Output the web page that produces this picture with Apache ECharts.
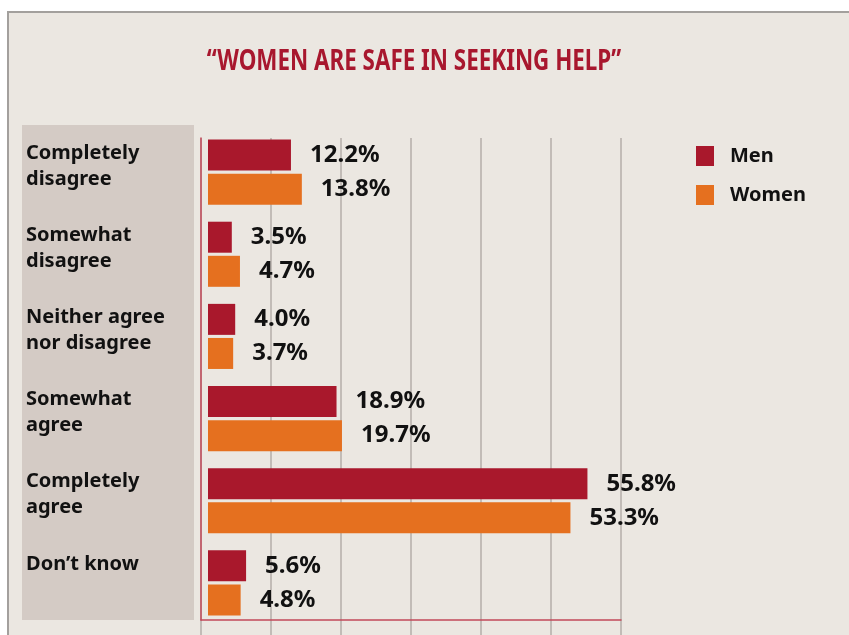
<!DOCTYPE html>
<html>
<head>
<meta charset="utf-8">
<style>
  html, body { margin: 0; padding: 0; background: #fff; }
  #chart { width: 849px; height: 635px; }
</style>
<script src="https://cdn.jsdelivr.net/npm/echarts@6/dist/echarts.min.js"></script>
</head>
<body>
<div id="chart"></div>
<script>
  // data
  var categories = ['Completely\ndisagree', 'Somewhat\ndisagree', 'Neither agree\nnor disagree', 'Somewhat\nagree', 'Completely\nagree', 'Don\u2019t know'];
  var men = [12.2, 3.5, 4.0, 18.9, 55.8, 5.6];
  var women = [13.8, 4.7, 3.7, 19.7, 53.3, 4.8];
  var seriesNames = ['Men', 'Women'];
  var titleText = '\u201cWOMEN ARE SAFE IN SEEKING HELP\u201d';

  var font = "'Noto Sans', 'Open Sans', sans-serif";
  var chart = echarts.init(document.getElementById('chart'));

  function valueLabel() {
    return {
      show: true, position: 'right', distance: 19,
      color: '#111', fontFamily: font, fontSize: 24, fontWeight: 'bold',
      formatter: function (p) { return p.value.toFixed(1) + '%'; }
    };
  }

  chart.setOption({
    backgroundColor: '#ffffff',
    animation: false,
    graphic: [
      {
        type: 'rect', z: -10, silent: true,
        shape: { x: 8, y: 12, width: 900, height: 700 },
        style: { fill: '#ebe7e1', stroke: '#a3a09d', lineWidth: 2 }
      },
      {
        // grey panel behind the category labels
        type: 'rect', z: -9, silent: true,
        shape: { x: 22, y: 125, width: 172, height: 495 },
        style: { fill: '#d4cbc5' }
      },
      {
        type: 'text', x: 414, y: 62, scaleX: 0.8, silent: true,
        style: {
          text: titleText,
          fill: '#a8172e',
          font: 'bold 28px ' + font,
          textAlign: 'center',
          textVerticalAlign: 'middle'
        }
      }
    ],
    legend: {
      data: seriesNames,
      orient: 'vertical',
      left: 696,
      top: 146,
      padding: 0,
      itemWidth: 18,
      itemHeight: 20,
      itemGap: 19,
      icon: 'rect',
      selectedMode: false,
      textStyle: { fontFamily: font, fontSize: 20, fontWeight: 'bold', color: '#111', padding: [0, 0, 0, 11] }
    },
    grid: [
      // grey gridlines
      { left: 201, top: 138, width: 420, bottom: 0 },
      // red axis frame
      { left: 201, top: 138, width: 420, height: 482 },
      // bars
      { left: 208, top: 131, width: 408, height: 493 }
    ],
    xAxis: [
      {
        gridIndex: 0, type: 'value', min: 0, max: 6, interval: 1,
        axisLine: { show: false }, axisTick: { show: false }, axisLabel: { show: false },
        splitLine: { show: true, lineStyle: { color: '#b5aea8', width: 1.5 } }
      },
      {
        gridIndex: 1, type: 'value', min: 0, max: 1,
        axisLine: { show: true, lineStyle: { color: '#c24a5a', width: 1.5 } },
        axisTick: { show: false }, axisLabel: { show: false }, splitLine: { show: false }
      },
      {
        gridIndex: 2, type: 'value', min: 0, max: 60, show: false
      }
    ],
    yAxis: [
      { gridIndex: 0, type: 'value', show: false },
      {
        gridIndex: 1, type: 'value', min: 0, max: 1,
        axisLine: { show: true, lineStyle: { color: '#c24a5a', width: 1.5 } },
        axisTick: { show: false }, axisLabel: { show: false }, splitLine: { show: false }
      },
      {
        gridIndex: 2, type: 'category', data: categories, inverse: true,
        axisLine: { show: false }, axisTick: { show: false }, splitLine: { show: false },
        axisLabel: {
          align: 'left',
          margin: 182,
          verticalAlign: 'middle',
          color: '#111',
          fontFamily: font,
          fontSize: 20,
          fontWeight: 'bold',
          lineHeight: 26,
          // labels sit at the top of each group: pad every label to the same height
          formatter: function (v) {
            return (v.indexOf('\n') < 0 ? v + '\n ' : v) + '\n{s| }';
          },
          rich: { s: { lineHeight: 12, fontSize: 10 } }
        }
      }
    ],
    series: [
      {
        name: seriesNames[0], type: 'bar', xAxisIndex: 2, yAxisIndex: 2,
        data: men, barWidth: 31, barGap: '10%',
        itemStyle: { color: '#a9182c' },
        label: valueLabel()
      },
      {
        name: seriesNames[1], type: 'bar', xAxisIndex: 2, yAxisIndex: 2,
        data: women, barWidth: 31, barGap: '10%',
        itemStyle: { color: '#e5701f' },
        label: valueLabel()
      }
    ]
  });
</script>
</body>
</html>
